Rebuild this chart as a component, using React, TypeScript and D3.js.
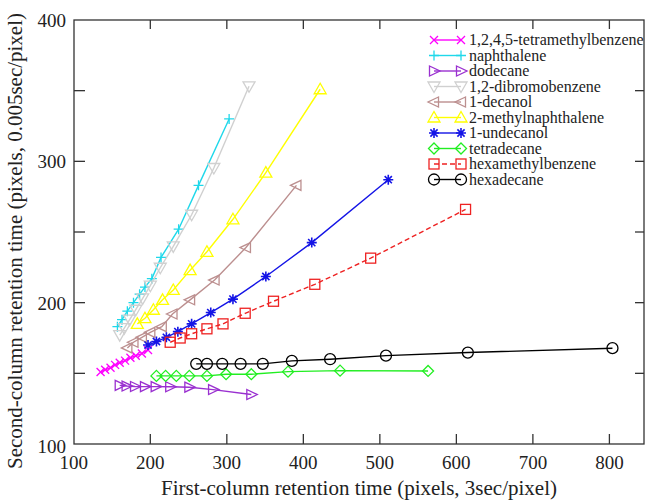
import React from 'react';
import * as d3 from 'd3';

// data
const tmbX = [135, 141, 148, 154, 160, 167, 174, 181, 189, 197];
const tmbY = [151, 152.5, 154, 156, 157.5, 159, 161, 162.5, 164, 166.5];
const naphX = [157, 163, 170, 178, 186, 193, 202, 214, 237, 263, 303];
const naphY = [183, 188, 194, 200, 206, 211, 217, 232, 252, 283, 330];
const dodecX = [160, 169, 180, 193, 207, 226, 251, 282, 332];
const dodecY = [141.5, 141, 140.7, 140.6, 140.6, 140.5, 140.2, 138.5, 135];
const dbbX = [160, 166, 173, 181, 190, 200, 213, 230, 254, 283, 329];
const dbbY = [177, 182, 188, 195, 203, 212, 224.7, 239.8, 262.2, 295.3, 353.1];
const decanolX = [170, 178, 189, 200, 215, 229, 252, 284, 325, 391];
const decanolY = [168, 172, 175.5, 179, 183, 192, 202, 216, 239, 283];
const mnX = [183, 193, 204, 216, 230, 252, 274, 308, 351, 422];
const mnY = [185, 189, 195, 202, 209, 223, 236, 259, 292, 351];
const undecX = [197, 208, 221, 236, 254, 279, 308, 351, 411, 511];
const undecY = [170, 172.5, 175.5, 179.5, 185, 193, 202.5, 218.5, 242.5, 287];
const tetradX = [208, 220, 234, 251, 274, 299, 332, 380, 448, 563];
const tetradY = [148.2, 148.2, 148.2, 148.2, 148.2, 149.4, 149.4, 151.2, 151.9, 151.7];
const hmbX = [226, 239, 254, 274, 295, 324, 361, 415, 488, 612];
const hmbY = [172, 175, 178, 181.5, 185, 192.5, 201, 213, 231.5, 266];
const hexadX = [260, 274, 294, 318, 347, 385, 435, 508, 615, 804];
const hexadY = [156.7, 156.7, 156.7, 156.7, 156.7, 158.8, 160, 162.5, 164.7, 167.8];

const xTicks = [100, 200, 300, 400, 500, 600, 700, 800];
const yTicks = [100, 200, 300, 400];
const yMinor = [150, 250, 350];

const series = [
  { name: '1,2,4,5-tetramethylbenzene', xs: tmbX, ys: tmbY, color: '#ff00ff', mark: 'x' },
  { name: 'naphthalene', xs: naphX, ys: naphY, color: '#1fd8ea', mark: 'plus' },
  { name: 'dodecane', xs: dodecX, ys: dodecY, color: '#9a30d0', mark: 'right' },
  { name: '1,2-dibromobenzene', xs: dbbX, ys: dbbY, color: '#d0d0d0', mark: 'down' },
  { name: '1-decanol', xs: decanolX, ys: decanolY, color: '#bc8f8f', mark: 'left' },
  { name: '2-methylnaphthalene', xs: mnX, ys: mnY, color: '#ffff00', mark: 'up' },
  { name: '1-undecanol', xs: undecX, ys: undecY, color: '#1414e6', mark: 'star' },
  { name: 'tetradecane', xs: tetradX, ys: tetradY, color: '#22ee22', mark: 'diamond' },
  { name: 'hexamethylbenzene', xs: hmbX, ys: hmbY, color: '#ee2222', mark: 'square', dash: '5,3' },
  { name: 'hexadecane', xs: hexadX, ys: hexadY, color: '#000000', mark: 'circle' },
];

const W = 646;
const H = 501;
const left = 74;
const right = 644;
const top = 20;
const bottom = 444;

const x = d3.scaleLinear().domain([100, 800]).range([73.8, 609.4]);
const y = d3.scaleLinear().domain([100, 400]).range([bottom, top]);

function Marker({ kind, cx, cy, color }) {
  const p = { fill: 'none', stroke: color, strokeWidth: 1.3 };
  const t = `translate(${cx},${cy})`;
  switch (kind) {
    case 'x':
      return <path transform={t} d="M-4,-4L4,4M-4,4L4,-4" {...p} />;
    case 'plus':
      return <path transform={t} d="M-5,0L5,0M0,-5L0,5" {...p} />;
    case 'star':
      return <path transform={t} d="M-5,0L5,0M0,-5L0,5M-3.6,-3.6L3.6,3.6M-3.6,3.6L3.6,-3.6" {...p} strokeWidth={1.6} />;
    case 'right':
      return <path transform={t} d="M-4.5,-5L6,0L-4.5,5Z" {...p} />;
    case 'left':
      return <path transform={t} d="M4.5,-5L-6,0L4.5,5Z" {...p} />;
    case 'up':
      return <path transform={t} d="M-6,4.5L6,4.5L0,-6Z" {...p} />;
    case 'down':
      return <path transform={t} d="M-6,-4.5L6,-4.5L0,6Z" {...p} />;
    case 'diamond':
      return <path transform={t} d="M0,-5.5L5.5,0L0,5.5L-5.5,0Z" {...p} />;
    case 'square':
      return <rect x={cx - 5} y={cy - 5} width={10} height={10} {...p} />;
    default:
      return <circle cx={cx} cy={cy} r={5.5} {...p} />;
  }
}

export default function App() {
  const line = d3.line<[number, number]>().x(d => x(d[0])).y(d => y(d[1]));
  const font = '"Liberation Serif", "DejaVu Serif", serif';

  return (
    <svg width={W} height={H} style={{ position: 'absolute', left: 0, top: 0, background: '#fff' }}>
      <rect width={W} height={H} fill="#fff" />

      {/* frame */}
      <rect x={left} y={top} width={right - left} height={bottom - top} fill="none" stroke="#333" strokeWidth={1.3} />

      {/* x ticks, bottom and top */}
      {xTicks.slice(1).map(v => (
        <g key={'xt' + v}>
          <line x1={x(v)} x2={x(v)} y1={bottom} y2={bottom - 10} stroke="#333" strokeWidth={1.3} />
          <line x1={x(v)} x2={x(v)} y1={top} y2={top + 9} stroke="#333" strokeWidth={1.3} />
        </g>
      ))}
      {xTicks.map(v => (
        <text key={'xl' + v} x={x(v)} y={469} textAnchor="middle" fontFamily={font} fontSize={19} fill="#222">{v}</text>
      ))}

      {/* y ticks, left and right */}
      {[...yTicks.slice(1, -1), ...yMinor].map(v => (
        <g key={'yt' + v}>
          <line x1={left} x2={left + 11} y1={y(v)} y2={y(v)} stroke="#333" strokeWidth={1.3} />
          <line x1={right} x2={right - 9} y1={y(v)} y2={y(v)} stroke="#333" strokeWidth={1.3} />
        </g>
      ))}
      {yTicks.map(v => (
        <text key={'yl' + v} x={66} y={y(v) + (v === 100 ? 9 : 7)} textAnchor="end" fontFamily={font} fontSize={19} fill="#222">{v}</text>
      ))}

      {/* axis titles */}
      <text x={359} y={495} textAnchor="middle" fontFamily={font} fontSize={21} fill="#222">
        First-column retention time (pixels, 3sec/pixel)
      </text>
      <text transform="translate(22,241) rotate(-90)" textAnchor="middle" fontFamily={font} fontSize={21} fill="#222">
        Second-column retention time (pixels, 0.005sec/pixel)
      </text>

      {/* series */}
      {series.map(s => {
        const pts = s.xs.map((v, i) => [v, s.ys[i]] as [number, number]);
        return (
          <g key={s.name}>
            <path d={line(pts) || ''} fill="none" stroke={s.color} strokeWidth={1.4} strokeDasharray={s.dash} />
            {pts.map((d, i) => (
              <Marker key={i} kind={s.mark} cx={x(d[0])} cy={y(d[1])} color={s.color} />
            ))}
          </g>
        );
      })}

      {/* legend */}
      {series.map((s, i) => {
        const ly = 40 + i * 15.5;
        return (
          <g key={'lg' + s.name}>
            <line x1={434} x2={461} y1={ly} y2={ly} stroke={s.color} strokeWidth={1.4} strokeDasharray={s.dash} />
            <Marker kind={s.mark} cx={434} cy={ly} color={s.color} />
            <Marker kind={s.mark} cx={461} cy={ly} color={s.color} />
            <text x={469} y={ly + 5} fontFamily={font} fontSize={16} fill="#222">{s.name}</text>
          </g>
        );
      })}
    </svg>
  );
}
